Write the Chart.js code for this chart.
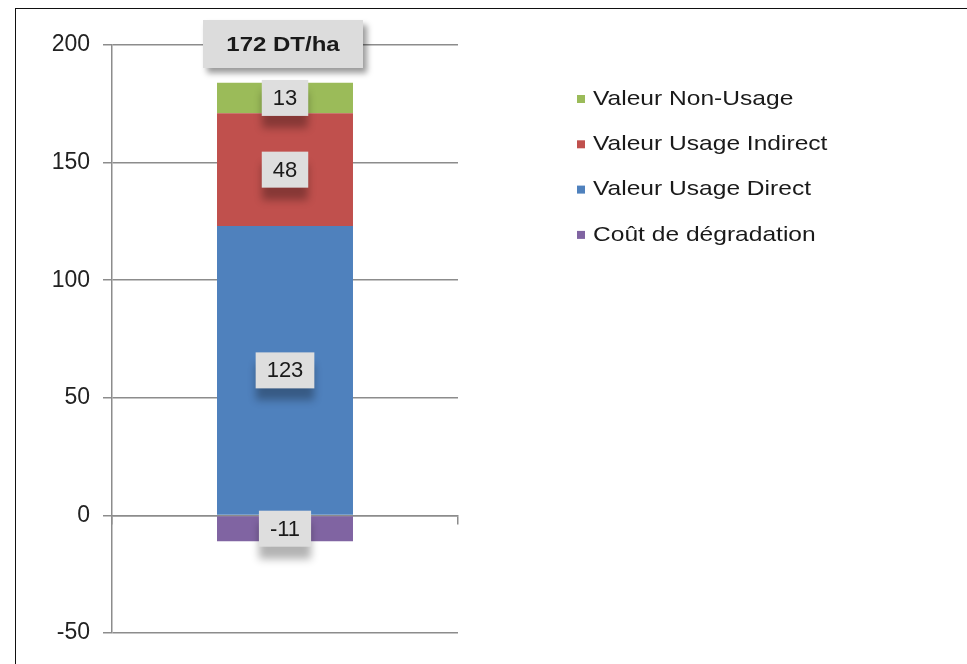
<!DOCTYPE html>
<html>
<head>
<meta charset="utf-8">
<script src="https://cdn.jsdelivr.net/npm/chart.js@4.4.1/dist/chart.umd.min.js"></script>
<style>
  html, body { margin: 0; padding: 0; background: #fff; }
  #wrap { position: relative; width: 967px; height: 664px; }
  #frame { position: absolute; left: 15px; top: 8px; right: -5px; bottom: -5px; border-top: 1.5px solid #111; border-left: 1.5px solid #111; }
  canvas { position: absolute; left: 0; top: 0; }
</style>
</head>
<body>
<div id="wrap">
  <div id="frame"></div>
  <canvas id="chart" width="967" height="664"></canvas>
</div>
<script>
// data
const categories = [''];
const seriesNames = ['Valeur Usage Direct', 'Valeur Usage Indirect', 'Valeur Non-Usage', 'Coût de dégradation'];
const seriesValues = [[123], [48], [13], [-11]];
const seriesColors = ['#4f81bd', '#c0504d', '#9bbb59', '#8064a2'];
const legendOrder = [2, 1, 0, 3];
const yTicks = [-50, 0, 50, 100, 150, 200];
const totalLabel = '172 DT/ha';

const FONT = '"Liberation Sans", Arial, sans-serif';
const GRID = '#8c8c8c';

function drawText(ctx, text, x, y, font, sx, align) {
    ctx.save();
    ctx.font = font;
    ctx.textBaseline = 'middle';
    ctx.textAlign = 'left';
    const w = ctx.measureText(text).width * sx;
    let x0 = x;
    if (align === 'center') x0 = x - w / 2;
    ctx.translate(x0, y);
    ctx.scale(sx, 1);
    ctx.fillText(text, 0, 0);
    ctx.restore();
    return w;
}

function shadowBox(ctx, x, y, w, h, fill, ox, oy, blur, alpha) {
    ctx.save();
    ctx.shadowColor = 'rgba(0,0,0,' + alpha + ')';
    ctx.shadowBlur = blur;
    ctx.shadowOffsetX = ox;
    ctx.shadowOffsetY = oy;
    ctx.fillStyle = fill;
    ctx.fillRect(x, y, w, h);
    ctx.restore();
}

const decorPlugin = {
    id: 'decor',
    afterDatasetsDraw(chart) {
        const ctx = chart.ctx;
        const area = chart.chartArea;

        // value boxes
        chart.data.datasets.forEach((ds, i) => {
            const bar = chart.getDatasetMeta(i).data[0];
            const cy = (bar.y + bar.base) / 2;
            const txt = String(ds.data[0]);
            ctx.font = '22px ' + FONT;
            const tw = ctx.measureText(txt).width;
            const bw = tw + 22, bh = 36;
            shadowBox(ctx, bar.x - bw / 2, cy - bh / 2, bw, bh, '#dedede', 0, 12, 8, 0.3);
            ctx.fillStyle = '#1a1a1a';
            drawText(ctx, txt, bar.x, cy + 1, '22px ' + FONT, 1, 'center');
        });

        // total box on top
        const first = chart.getDatasetMeta(0).data[0];
        const ty = chart.scales.y.getPixelForValue(200);
        shadowBox(ctx, first.x - 82, ty - 25, 160, 48, '#dcdcdc', 4, 5, 6, 0.4);
        ctx.fillStyle = '#1a1a1a';
        drawText(ctx, totalLabel, first.x - 2, ty, 'bold 20px ' + FONT, 1.2, 'center');

        // legend
        const lx = area.right + 119;
        legendOrder.forEach((idx, k) => {
            const ly = area.top + 54 + k * 45.3;
            ctx.fillStyle = chart.data.datasets[idx].backgroundColor;
            ctx.fillRect(lx, ly - 4, 8, 8);
            ctx.fillStyle = '#1a1a1a';
            drawText(ctx, chart.data.datasets[idx].label, lx + 16, ly, '21px ' + FONT, 1.17, 'left');
        });
    }
};

const datasets = seriesNames.map((name, i) => ({
    label: name,
    data: seriesValues[i],
    backgroundColor: seriesColors[i],
    borderWidth: 0,
    barPercentage: 1,
    categoryPercentage: 0.393
}));

new Chart(document.getElementById('chart'), {
    type: 'bar',
    data: { labels: categories, datasets },
    options: {
        responsive: false,
        animation: false,
        layout: { padding: { left: 0, right: 509, top: 45, bottom: 31 } },
        plugins: { legend: { display: false }, tooltip: { enabled: false } },
        scales: {
            x: {
                stacked: true,
                position: { y: 0 },
                grid: { drawOnChartArea: false, color: GRID, lineWidth: 1.5, tickLength: 8 },
                border: { display: true, color: GRID, width: 1.5 },
                ticks: { display: false }
            },
            y: {
                stacked: true,
                min: yTicks[0],
                max: yTicks[yTicks.length - 1],
                afterBuildTicks: s => { s.ticks = yTicks.map(v => ({ value: v })); },
                afterFit: s => { s.width = 112; },
                grid: { color: GRID, lineWidth: 1.5, tickLength: 9 },
                border: { display: true, color: GRID, width: 1.5 },
                ticks: { font: { family: FONT, size: 23 }, color: '#222', padding: 13 }
            }
        }
    },
    plugins: [decorPlugin]
});
</script>
</body>
</html>
